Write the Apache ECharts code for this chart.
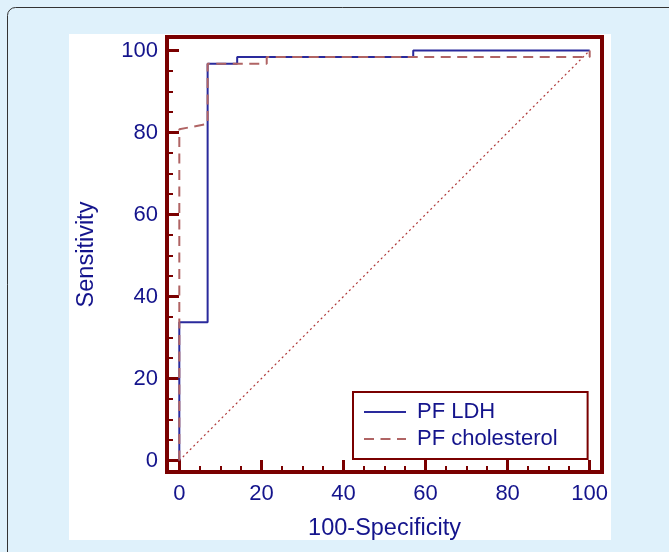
<!DOCTYPE html>
<html>
<head>
<meta charset="utf-8">
<script src="https://cdn.jsdelivr.net/npm/echarts@6/dist/echarts.min.js"></script>
<style>
html,body{margin:0;padding:0;background:#dff1fb;}
#c{width:669px;height:552px;}
</style>
</head>
<body>
<div id="c"></div>
<script>
// ROC data (100-Specificity, Sensitivity)
var ldhX = [0, 0, 6.9, 6.9, 14.1, 14.1, 57, 57, 100];
var ldhY = [0, 33.7, 33.7, 96.8, 96.8, 98.4, 98.4, 100, 100];
var cholX = [0, 0, 6.9, 6.9, 21.3, 21.3, 100, 100];
var cholY = [0, 80.8, 82.1, 96.8, 96.8, 98.4, 98.4, 100];
var refX = [0, 100];
var refY = [0, 100];
var seriesNames = ['PF LDH', 'PF cholesterol'];
var majorTicks = [0, 20, 40, 60, 80, 100];
var minorTicks = [5, 10, 15, 25, 30, 35, 45, 50, 55, 65, 70, 75, 85, 90, 95];
var xTitle = '100-Specificity';
var yTitle = 'Sensitivity';

function zip(xs, ys) { return xs.map(function (x, i) { return [x, ys[i]]; }); }

var MAROON = '#7a0000';
var TXT = '#14148c';
var FONT = 'Liberation Sans, Arial, sans-serif';

function mkAxis(isX, major, extra) {
  var base = {
    type: 'value',
    min: isX ? -3 : -2.8, max: isX ? 103 : 103.3,
    splitLine: { show: false },
    axisLine: { show: major, onZero: false, lineStyle: { color: MAROON, width: 3 } },
    axisTick: {
      show: true, inside: true,
      customValues: major ? majorTicks : minorTicks,
      length: major ? 12 : 6,
      lineStyle: { color: MAROON, width: major ? 3 : 2 }
    },
    axisLabel: {
      show: major, customValues: majorTicks,
      color: TXT, fontSize: 22, fontFamily: FONT, margin: isX ? 11 : 9
    }
  };
  for (var k in extra) base[k] = extra[k];
  return base;
}

var chart = echarts.init(document.getElementById('c'), null, { renderer: 'canvas' });
chart.setOption({
  backgroundColor: '#dff1fb',
  animation: false,
  graphic: [
    { type: 'rect', z: -10, shape: { x: 7.5, y: 7.5, width: 720, height: 620, r: 8 },
      style: { fill: '#dff1fb', stroke: '#333', lineWidth: 1 } },
    { type: 'rect', z: -9, shape: { x: 69, y: 34, width: 542, height: 506 },
      style: { fill: '#ffffff' } }
  ],
  grid: { left: 167, top: 37, width: 435, height: 435, show: true,
          borderColor: MAROON, borderWidth: 4, backgroundColor: 'transparent' },
  xAxis: [
    mkAxis(true, true, { position: 'bottom', name: xTitle, nameLocation: 'middle', nameGap: 45,
      nameTextStyle: { color: TXT, fontSize: 23.5, fontFamily: FONT } }),
    mkAxis(true, false, { position: 'bottom' })
  ],
  yAxis: [
    mkAxis(false, true, { position: 'left', name: yTitle, nameLocation: 'middle', nameGap: 68,
      nameRotate: 90, nameTextStyle: { color: TXT, fontSize: 23.5, fontFamily: FONT } }),
    mkAxis(false, false, { position: 'left' })
  ],
  legend: {
    data: seriesNames,
    orient: 'vertical',
    left: 353, top: 392,
    padding: [9, 30, 9, 10],
    itemWidth: 42, itemHeight: 14, itemGap: 5,
    borderColor: MAROON, borderWidth: 2, backgroundColor: '#fff',
    itemStyle: { opacity: 0, borderWidth: 0 },
    textStyle: { color: TXT, fontSize: 22, fontFamily: FONT, lineHeight: 22, padding: [0, 0, 0, 6] }
  },
  series: [
    { name: 'ref', type: 'line', data: zip(refX, refY), symbol: 'none', silent: true,
      itemStyle: { color: '#b03a3a' },
      lineStyle: { color: '#b03a3a', width: 1.2, type: [2, 3] } },
    { name: seriesNames[0], type: 'line', data: zip(ldhX, ldhY), symbol: 'none',
      itemStyle: { color: '#2a2a9c' },
      lineStyle: { color: '#2a2a9c', width: 2 } },
    { name: seriesNames[1], type: 'line', data: zip(cholX, cholY), symbol: 'none',
      itemStyle: { color: '#b06464' },
      lineStyle: { color: '#b06464', width: 2, type: [10, 6.5] } }
  ]
});
</script>
</body>
</html>
